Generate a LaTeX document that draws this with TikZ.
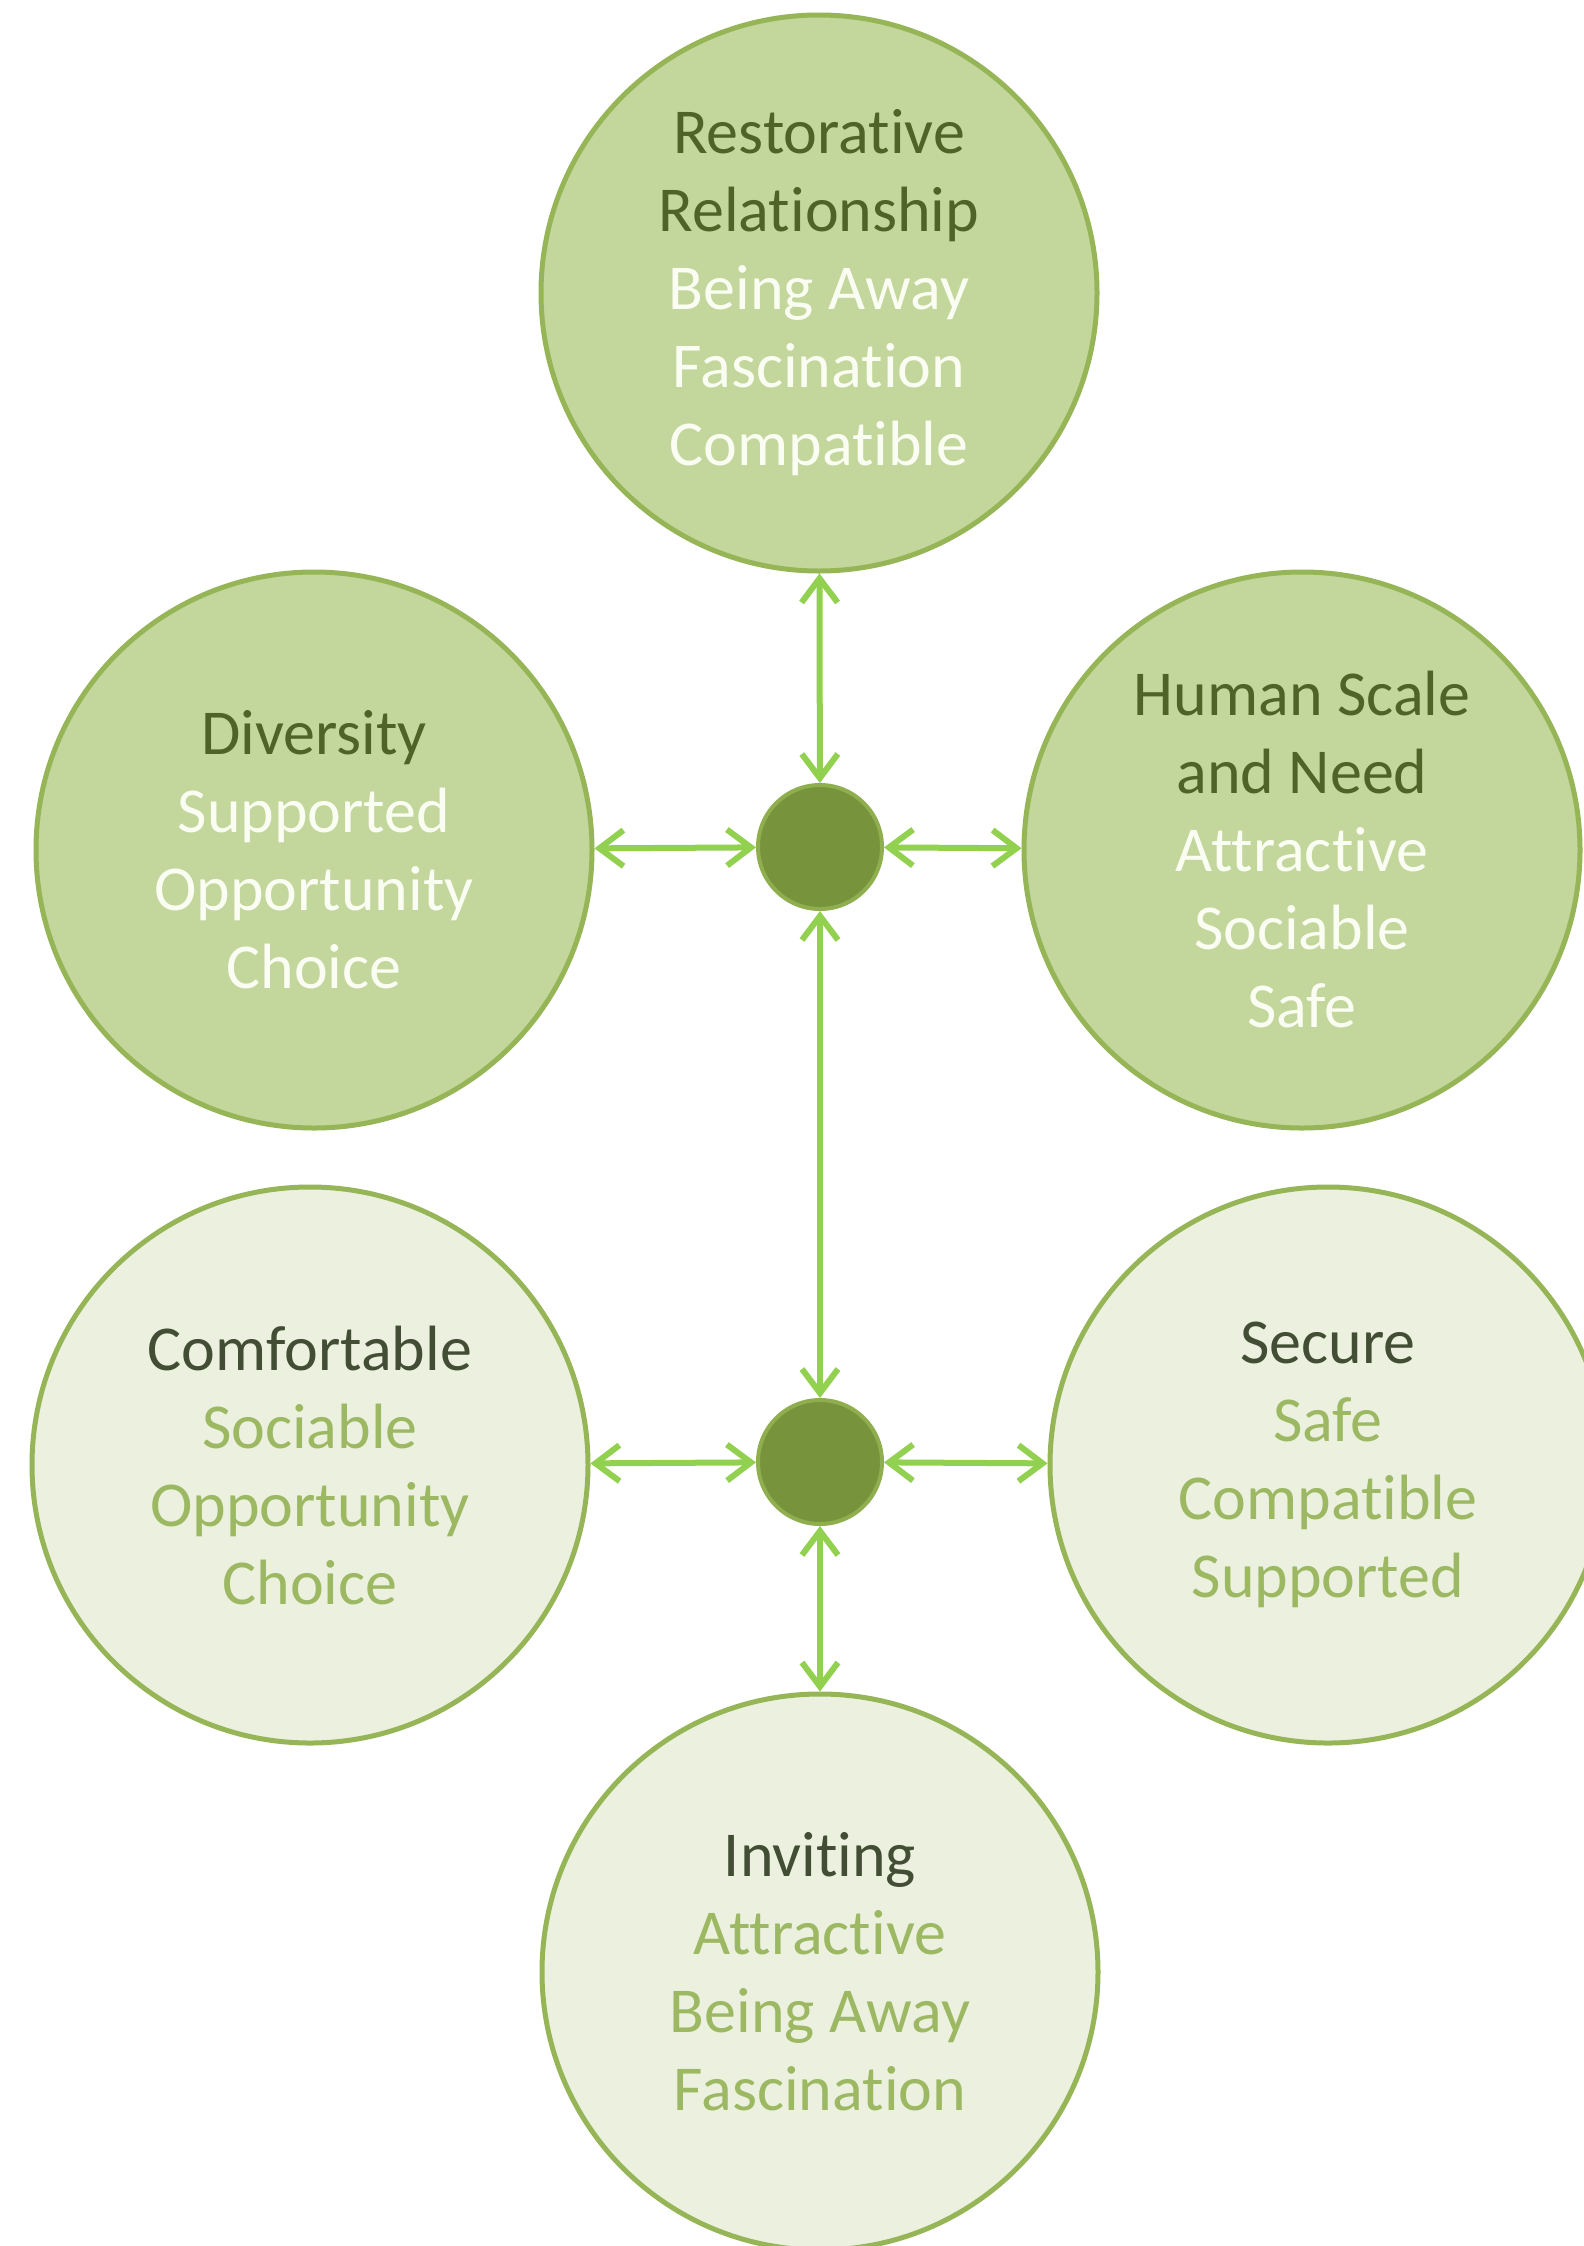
\documentclass[tikz,border=0pt]{standalone}
\usepackage{fontspec}
\setmainfont[Ligatures=NoCommon]{Carlito}
\usetikzlibrary{arrows.meta}
\definecolor{darkfill}{HTML}{C3D69B}
\definecolor{lightfill}{HTML}{EBF1DE}
\definecolor{ringcol}{HTML}{96B556}
\definecolor{dotfill}{HTML}{77933C}
\definecolor{dotring}{HTML}{8FAE4E}
\definecolor{arrowcol}{HTML}{92D050}
\definecolor{titledark}{HTML}{4F6228}
\definecolor{titlegray}{HTML}{434D35}
\definecolor{sublight}{HTML}{9DB862}
\definecolor{subwhite}{HTML}{FAFDF2}
\tikzset{
  bigdark/.style={circle, minimum size=556pt, inner sep=0pt, fill=darkfill, draw=ringcol, line width=5pt, align=center, font=\fontsize{64}{78}\selectfont},
  biglight/.style={circle, minimum size=556pt, inner sep=0pt, fill=lightfill, draw=ringcol, line width=5pt, align=center, font=\fontsize{64}{78}\selectfont},
  hub/.style={circle, minimum size=124pt, inner sep=0pt, fill=dotfill, draw=dotring, line width=4pt},
  link/.style={draw=arrowcol, line width=6pt, {Straight Barb[length=24pt,width=36pt,line width=6pt]}-{Straight Barb[length=24pt,width=36pt,line width=6pt]}}
}
\newcommand{\tdark}[1]{\textcolor{titledark}{#1}}
\newcommand{\swhite}[1]{\textcolor{subwhite}{#1}}
\newcommand{\tgray}[1]{\textcolor{titlegray}{#1}}
\newcommand{\slight}[1]{\textcolor{sublight}{#1}}
\begin{document}
\begin{tikzpicture}[x=1pt,y=-1pt]
\useasboundingbox (0,0) rectangle (1584,2246);
\fill[white] (0,0) rectangle (1584,2246);
\node[bigdark] (top) at (819,293) {\tdark{Restorative}\\\tdark{Relationship}\\\swhite{Being Away}\\\swhite{Fascination}\\\swhite{Compatible}};
\node[bigdark] (div) at (314,850) {\tdark{Diversity}\\\swhite{Supported}\\\swhite{Opportunity}\\\swhite{Choice}};
\node[bigdark] (hum) at (1302,850) {\tdark{Human Scale}\\\tdark{and Need}\\\swhite{Attractive}\\\swhite{Sociable}\\\swhite{Safe}};
\node[biglight] (com) at (310,1465) {\tgray{Comfortable}\\\slight{Sociable}\\\slight{Opportunity}\\\slight{Choice}};
\node[biglight] (sec) at (1328,1465) {\tgray{Secure}\\\slight{Safe}\\\slight{Compatible}\\\slight{Supported}};
\node[biglight] (inv) at (820,1972) {\tgray{Inviting}\\\slight{Attractive}\\\slight{Being Away}\\\slight{Fascination}};
\node[hub] (d1) at (820,847) {};
\node[hub] (d2) at (820,1462) {};
\draw[link] (top) -- (d1);
\draw[link] (div) -- (d1);
\draw[link] (d1) -- (hum);
\draw[link] (d1) -- (d2);
\draw[link] (com) -- (d2);
\draw[link] (d2) -- (sec);
\draw[link] (d2) -- (inv);
\end{tikzpicture}
\end{document}
